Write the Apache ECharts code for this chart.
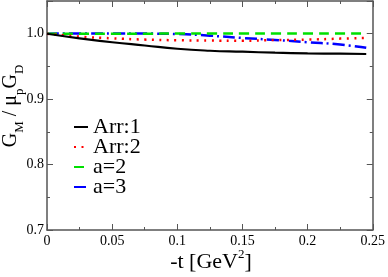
<!DOCTYPE html>
<html>
<head>
<meta charset="utf-8">
<script src="https://cdn.jsdelivr.net/npm/echarts@6/dist/echarts.min.js"></script>
<style>html,body{margin:0;padding:0;background:#fff;}#c{width:388px;height:277px;}</style>
</head>
<body>
<div id="c"></div>
<script>
var t = [0, 0.025, 0.05, 0.075, 0.1, 0.125, 0.15, 0.175, 0.2, 0.225, 0.245];
var arr1 = [1.0, 0.993, 0.987, 0.982, 0.977, 0.974, 0.9725, 0.971, 0.970, 0.9695, 0.969];
var arr2 = [1.0, 0.9955, 0.993, 0.991, 0.990, 0.9895, 0.9893, 0.9903, 0.991, 0.9925, 0.9935];
var a2 = [1.0, 1.0, 1.0, 1.0, 1.0003, 1.0003, 1.0003, 1.0004, 1.0004, 1.0005, 1.0005];
var a3 = [1.0, 1.0003, 1.0003, 1.0002, 0.9995, 0.997, 0.9935, 0.9905, 0.987, 0.9835, 0.9785];
var names = ['Arr:1', 'Arr:2', 'a=2', 'a=3'];
var xTicks = ['0', '0.05', '0.1', '0.15', '0.2', '0.25'];
var yTicks = ['0.7', '0.8', '0.9', '1.0'];

function pairs(ys) { return t.map(function (x, i) { return [x, ys[i]]; }); }
var FONT = 'Liberation Serif';
var axisColor = '#555';
function mkX(pos, show) {
  return {
    type: 'value', position: pos, min: 0, max: 0.25, interval: 0.05,
    axisLine: { show: true, onZero: false, lineStyle: { color: axisColor, width: 1.5 } },
    axisTick: { show: true, inside: true, length: 6, lineStyle: { color: axisColor } },
    minorTick: { show: true, splitNumber: 2, length: 3, lineStyle: { color: axisColor } },
    axisLabel: { show: show, color: '#000', fontFamily: FONT, fontSize: 14, margin: 4,
      formatter: function (v) { var i = Math.round(v / 0.05); return xTicks[i] || ''; } },
    splitLine: { show: false }, minorSplitLine: { show: false }
  };
}
function mkY(pos, show) {
  return {
    type: 'value', position: pos, min: 0.7, max: 1.05, interval: 0.1,
    axisLine: { show: true, onZero: false, lineStyle: { color: axisColor, width: 1.5 } },
    axisTick: { show: true, inside: true, length: 6, lineStyle: { color: axisColor } },
    minorTick: { show: true, splitNumber: 2, length: 3, lineStyle: { color: axisColor } },
    axisLabel: { show: show, color: '#000', fontFamily: FONT, fontSize: 14, margin: 3, showMaxLabel: false,
      formatter: function (v) { var i = Math.round((v - 0.7) / 0.1); return (Math.abs(v - (0.7 + i * 0.1)) < 1e-6 && yTicks[i]) ? yTicks[i] : ''; } },
    splitLine: { show: false }, minorSplitLine: { show: false }
  };
}
var styles = [
  { color: '#000000', type: 'solid', width: 2.2 },
  { color: '#ff0000', type: [2, 5.5], width: 2.5, cap: 'butt' },
  { color: '#00e000', type: [10, 6], width: 2.5 },
  { color: '#0000ff', type: [12, 4, 2, 4], width: 2.5 }
];
var data = [arr1, arr2, a2, a3];
var chart = echarts.init(document.getElementById('c'), null, { renderer: 'canvas' });
chart.setOption({
  animation: false,
  backgroundColor: '#fff',
  grid: { left: 47, right: 13, top: 1, bottom: 47 },
  xAxis: [mkX('bottom', true), mkX('top', false)],
  yAxis: [mkY('left', true), mkY('right', false)],
  legend: {
    orient: 'vertical', left: 68, top: 111, itemGap: -2, itemWidth: 14, itemHeight: 20,
    data: names,
    itemStyle: { opacity: 0 },
    textStyle: { fontFamily: FONT, fontSize: 22, color: '#000', lineHeight: 20 }
  },
  series: names.map(function (n, i) {
    return { name: n, type: 'line', data: pairs(data[i]), symbol: 'none', smooth: true,
      lineStyle: styles[i], itemStyle: { color: styles[i].color }, z: 10 - i };
  }),
  graphic: [
    { type: 'text', x: 211, y: 262, style: {
        text: '{m|-t [GeV}{s|2}{m|]}', align: 'center', verticalAlign: 'middle',
        rich: { m: { fontFamily: FONT, fontSize: 22, lineHeight: 28, fill: '#000' },
                s: { fontFamily: FONT, fontSize: 13, lineHeight: 28, verticalAlign: 'top', fill: '#000' } } } },
    { type: 'text', x: 11, y: 106, rotation: Math.PI / 2, style: {
        text: '{m|G}{s|M}{m| / μ}{s|p}{m|G}{s|D}', align: 'center', verticalAlign: 'middle',
        rich: { m: { fontFamily: FONT, fontSize: 20, lineHeight: 30, fill: '#000' },
                s: { fontFamily: FONT, fontSize: 13, lineHeight: 30, verticalAlign: 'bottom', fill: '#000' } } } }
  ]
});
</script>
</body>
</html>
